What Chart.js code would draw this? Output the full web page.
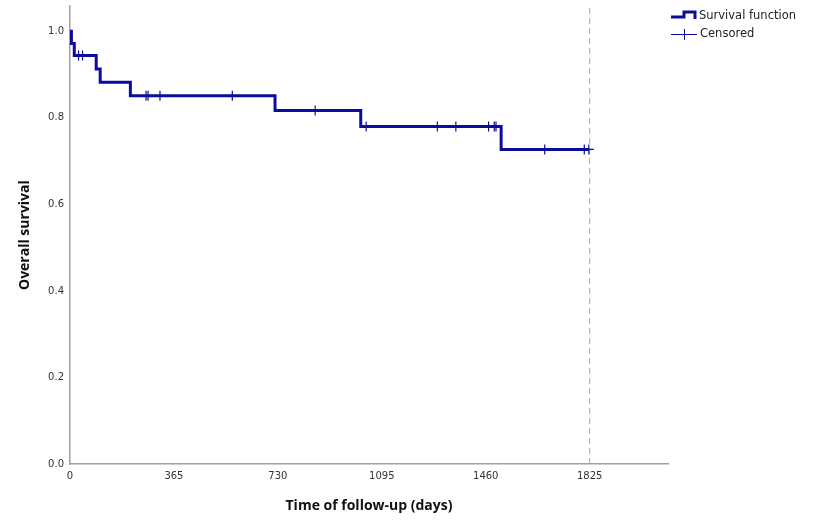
<!DOCTYPE html>
<html>
<head>
<meta charset="utf-8">
<script src="https://cdn.jsdelivr.net/npm/chart.js@4.4.1/dist/chart.umd.min.js"></script>
<style>
  html, body { margin: 0; padding: 0; background: #ffffff; }
  #wrap { width: 822px; height: 520px; position: relative; }
</style>
</head>
<body>
<div id="wrap"><canvas id="c" width="822" height="520"></canvas></div>
<script>
// ---- Data ----
const eventTimes    = [0, 5, 15, 92, 106, 212, 720, 1021, 1514, 1822];
const survival      = [1.0, 0.972, 0.944, 0.913, 0.882, 0.851, 0.817, 0.780, 0.727, 0.727];
const censoredTimes = [30, 44, 267, 274, 316, 570, 861, 1040, 1290, 1355, 1470, 1490, 1496, 1667, 1806, 1822];
const censoredSurv  = [0.944, 0.944, 0.851, 0.851, 0.851, 0.851, 0.817, 0.780, 0.780, 0.780, 0.780, 0.780, 0.780, 0.727, 0.727, 0.727];
const xTickValues   = [0, 365, 730, 1095, 1460, 1825];
const yTickValues   = [0, 0.2, 0.4, 0.6, 0.8, 1.0];
const cutoffDay     = 1825;
const xMax          = 2100;
const yMax          = 1.058;
const legendLabels  = ['Survival function', 'Censored'];
const xTitle        = 'Time of follow-up (days)';
const yTitle        = 'Overall survival';

const BLUE = '#0c0c9c';
const AXIS = '#a0a0a0';

const kmPoints = eventTimes.map((t, i) => ({ x: t, y: survival[i] }));
const censorPoints = censoredTimes.map((t, i) => ({ x: t, y: censoredSurv[i] }));
const cutoffPoints = [{ x: cutoffDay, y: 0 }, { x: cutoffDay, y: yMax }];

const legendPlugin = {
  id: 'kmLegend',
  afterDraw(chart) {
    const ctx = chart.ctx;
    ctx.save();
    // Survival function icon (step)
    ctx.strokeStyle = BLUE;
    ctx.lineWidth = 3;
    ctx.lineJoin = 'miter';
    ctx.beginPath();
    ctx.moveTo(671, 17);
    ctx.lineTo(684, 17);
    ctx.lineTo(684, 12);
    ctx.lineTo(695, 12);
    ctx.lineTo(695, 19);
    ctx.stroke();
    // Censored icon (cross)
    ctx.lineWidth = 1;
    ctx.beginPath();
    ctx.moveTo(671, 34.5);
    ctx.lineTo(697, 34.5);
    ctx.moveTo(684.5, 29);
    ctx.lineTo(684.5, 40);
    ctx.stroke();
    // Text
    ctx.fillStyle = '#222222';
    ctx.font = '11.5px "DejaVu Sans", sans-serif';
    ctx.textBaseline = 'middle';
    ctx.textAlign = 'left';
    ctx.fillText(legendLabels[0], 699, 16);
    ctx.fillText(legendLabels[1], 700, 34.5);
    ctx.restore();
  }
};

new Chart(document.getElementById('c'), {
  type: 'line',
  data: {
    datasets: [
      {
        label: legendLabels[0],
        data: kmPoints,
        stepped: true,
        borderColor: BLUE,
        borderWidth: 3,
        pointRadius: 0,
        fill: false,
        order: 2
      },
      {
        label: legendLabels[1],
        type: 'scatter',
        data: censorPoints,
        showLine: false,
        pointStyle: 'cross',
        pointRadius: 5,
        pointBorderWidth: 1.2,
        borderColor: BLUE,
        backgroundColor: BLUE,
        order: 1
      },
      {
        label: 'cutoff',
        data: cutoffPoints,
        borderColor: '#a8a8a8',
        borderWidth: 1,
        borderDash: [6, 4],
        pointRadius: 0,
        fill: false,
        order: 3
      }
    ]
  },
  options: {
    responsive: false,
    animation: false,
    events: [],
    layout: { padding: { left: 0, right: 154, top: 6, bottom: 0 } },
    plugins: { legend: { display: false }, tooltip: { enabled: false } },
    scales: {
      x: {
        type: 'linear',
        min: 0,
        max: xMax,
        grid: { display: false, drawTicks: false },
        border: { display: true, color: AXIS, width: 1.5 },
        afterBuildTicks: (s) => { s.ticks = xTickValues.map(v => ({ value: v })); },
        afterFit: (s) => { s.height = 56; s.paddingLeft = 0; s.paddingRight = 0; },
        ticks: {
          autoSkip: false,
          maxRotation: 0,
          padding: 6,
          color: '#333333',
          font: { family: '"DejaVu Sans", sans-serif', size: 10 },
          callback: (v) => String(v)
        },
        title: {
          display: true,
          text: xTitle,
          color: '#111111',
          font: { family: '"Open Sans", "DejaVu Sans", sans-serif', size: 14, weight: 'bold' },
          padding: { top: 0, bottom: 6 }
        }
      },
      y: {
        type: 'linear',
        min: 0,
        max: yMax,
        grid: { display: false, drawTicks: false },
        border: { display: true, color: AXIS, width: 1.5 },
        afterBuildTicks: (s) => { s.ticks = yTickValues.map(v => ({ value: v })); },
        afterFit: (s) => { s.width = 70; s.paddingTop = 0; s.paddingBottom = 0; },
        ticks: {
          padding: 6,
          color: '#333333',
          font: { family: '"DejaVu Sans", sans-serif', size: 10 },
          callback: (v) => Number(v).toFixed(1)
        },
        title: {
          display: true,
          text: yTitle,
          color: '#111111',
          font: { family: '"Open Sans", "DejaVu Sans", sans-serif', size: 14, weight: 'bold' },
          padding: { top: 17, bottom: 0 }
        }
      }
    }
  },
  plugins: [legendPlugin]
});
</script>
</body>
</html>
